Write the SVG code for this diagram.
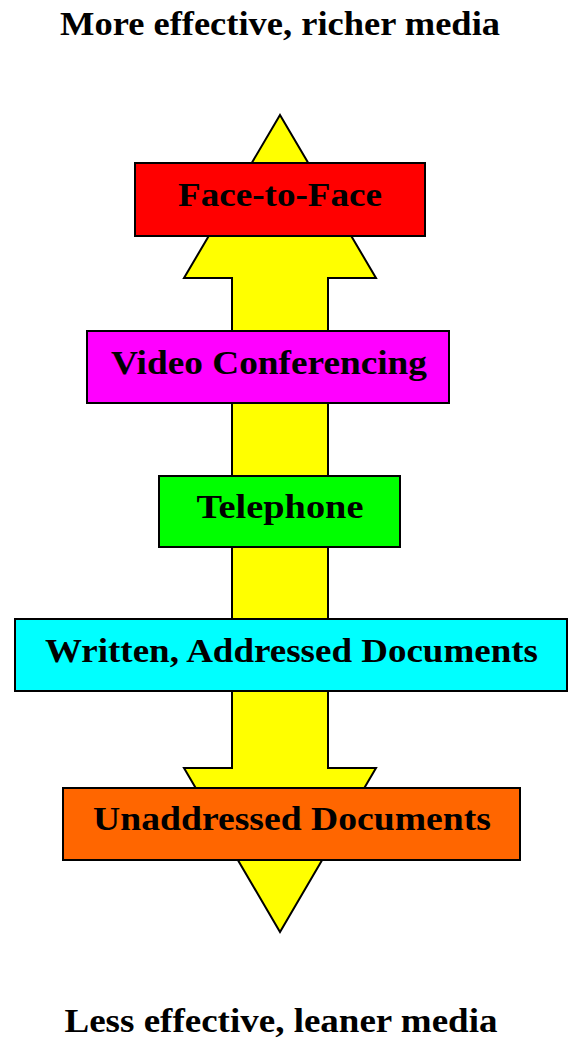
<svg xmlns="http://www.w3.org/2000/svg" width="568" height="1039" viewBox="0 0 568 1039">
  <style>
    .box { stroke: #000; stroke-width: 2; }
    .lbl { font-family: "Liberation Serif", "DejaVu Serif", serif; font-weight: bold; font-size: 34px; fill: #000; text-anchor: middle; }
  </style>
  <rect x="0" y="0" width="568" height="1039" fill="#fff"/>
  <g id="title-top">
    <text class="lbl" x="280" y="35" textLength="440" lengthAdjust="spacingAndGlyphs">More effective, richer media</text>
  </g>
  <g id="connectors">
    <polygon points="280,115 376,278 328,278 328,768 376,768 280,932 184,768 232,768 232,278 184,278" fill="#ffff00" stroke="#000" stroke-width="2" stroke-linejoin="miter"/>
  </g>
  <g id="face-to-face">
    <rect class="box" x="135" y="163" width="290" height="73" fill="#ff0000"/>
    <text class="lbl" x="280" y="206" textLength="204" lengthAdjust="spacingAndGlyphs">Face-to-Face</text>
  </g>
  <g id="video-conferencing">
    <rect class="box" x="87" y="331" width="362" height="72" fill="#ff00ff"/>
    <text class="lbl" x="269" y="374" textLength="316" lengthAdjust="spacingAndGlyphs">Video Conferencing</text>
  </g>
  <g id="telephone">
    <rect class="box" x="159" y="476" width="241" height="71" fill="#00ff00"/>
    <text class="lbl" x="280" y="518" textLength="167" lengthAdjust="spacingAndGlyphs">Telephone</text>
  </g>
  <g id="written-addressed">
    <rect class="box" x="15" y="619" width="552" height="72" fill="#00ffff"/>
    <text class="lbl" x="291.5" y="662" textLength="493" lengthAdjust="spacingAndGlyphs">Written, Addressed Documents</text>
  </g>
  <g id="unaddressed">
    <rect class="box" x="63" y="788" width="457" height="72" fill="#ff6600"/>
    <text class="lbl" x="292" y="830" textLength="398" lengthAdjust="spacingAndGlyphs">Unaddressed Documents</text>
  </g>
  <g id="title-bottom">
    <text class="lbl" x="281" y="1032" textLength="433" lengthAdjust="spacingAndGlyphs">Less effective, leaner media</text>
  </g>
</svg>
